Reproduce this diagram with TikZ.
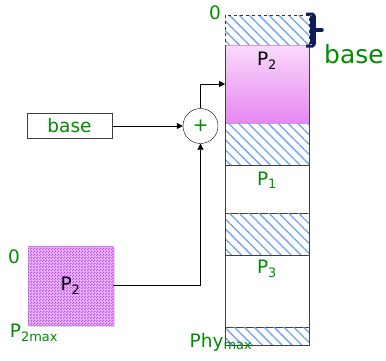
\documentclass[tikz,border=0pt]{standalone}
\usepackage{fontspec}
\setmainfont{DejaVu Sans}
\usetikzlibrary{calc}
\usetikzlibrary{positioning}
\usetikzlibrary{arrows.meta}
\usetikzlibrary{patterns.meta}
\definecolor{labgreen}{RGB}{0,140,0}
\definecolor{hatchblue}{RGB}{110,160,255}
\definecolor{pinktop}{RGB}{250,218,250}
\definecolor{pinkbot}{RGB}{230,135,242}
\definecolor{pinkedge}{RGB}{215,150,235}
\definecolor{checkback}{RGB}{235,190,252}
\definecolor{checkpink}{RGB}{190,75,245}
\definecolor{bracenavy}{RGB}{15,30,90}
\pgfdeclarepattern{
  name=finecheck,
  parameters={},
  bottom left={\pgfpointorigin},
  top right={\pgfqpoint{3pt}{3pt}},
  tile size={\pgfqpoint{3pt}{3pt}},
  tile transformation={},
  code={
    \pgfpathrectangle{\pgfpointorigin}{\pgfqpoint{1.5pt}{1.5pt}}
    \pgfpathrectangle{\pgfqpoint{1.5pt}{1.5pt}}{\pgfqpoint{1.5pt}{1.5pt}}
    \pgfusepath{fill}
  }
}
\tikzset{band/.style={minimum width=84pt, inner sep=0pt, outer sep=0pt, anchor=north}}
\tikzset{hatched/.style={band, pattern={Lines[angle=-45,distance=7pt,line width=1.3pt]}, pattern color=hatchblue}}
\tikzset{used/.style={band, draw=black!75, semithick}}
\tikzset{greenlab/.style={text=labgreen, font=\fontsize{18.5}{20}\selectfont}}
\tikzset{blacklab/.style={text=black, font=\fontsize{18.5}{20}\selectfont}}
\tikzset{conn/.style={thin, -{Triangle[length=6pt,width=6pt]}}}

\begin{document}
\begin{tikzpicture}[x=1pt, y=-1pt]
		\useasboundingbox (0,0) rectangle (386,360);

		% Memory column
		\node[hatched, minimum height=30pt] (free0) at (267,15) {};
		\draw[black!80, dashed] (free0.north west) rectangle (free0.south east);
		\node[band, minimum height=78pt, draw=pinkedge, top color=pinktop, bottom color=pinkbot] (p2mem) at (267,45) {};
		\node[hatched, minimum height=42pt] (free1) at (267,123) {};
		\node[used, minimum height=48pt] (p1mem) at (267,165) {};
		\node[hatched, minimum height=42pt] (free2) at (267,213) {};
		\node[used, minimum height=72pt] (p3mem) at (267,255) {};
		\node[hatched, minimum height=18pt] (free3) at (267,327) {};
		\draw[black!75, semithick] (free0.south west) -- (free3.south west) -- (free3.south east) -- (free0.south east);

		\node[blacklab] (p2memlab) at (267,61) {P\textsubscript{2}};
		\node[greenlab] (p1lab) at (267,180) {P\textsubscript{1}};
		\node[greenlab] (p3lab) at (267,269) {P\textsubscript{3}};
		\node[greenlab] (zerotop) at (215,13) {0};
		\node[greenlab] (phylab) at (221,342) {Phy\textsubscript{max}};

		% Bracket at the top hole
		\draw[bracenavy, line width=3pt, rounded corners=1.5pt] (306,14) -- (314,14) -- (314,46) -- (306,46);
		\draw[bracenavy, line width=6pt] (313,16) -- (313,44);
		\draw[bracenavy, line width=3.5pt, line cap=round] (314,30) -- (322,30);
		\node[text=labgreen, font=\fontsize{25}{27}\selectfont] (baselab) at (354,54) {base};

		% Base register and adder
		\node[draw=black!75, minimum width=85pt, minimum height=25pt, inner sep=0pt, greenlab] (basereg) at (69.5,126) {base};
		\node[draw, circle, minimum size=35pt, inner sep=0pt, greenlab] (adder) at (200.5,126) {+};

		% Logical P2
		\fill[black!15] (30,248) rectangle (115,327);
		\node[minimum width=85pt, minimum height=79pt, inner sep=0pt, fill=checkback, postaction={pattern=finecheck, pattern color=checkpink}, draw=pinkedge, blacklab] (p2log) at (70.5,285.5) {P\textsubscript{2}};
		\node[greenlab] (zeroleft) at (14,257) {0};
		\node[greenlab] (p2maxlab) at (34,333) {P\textsubscript{2max}};

		\draw[conn] (basereg) -- (adder);
		\draw[conn] (p2log.east) -| (adder.south);
		\draw[conn] (adder.north) |- (p2mem.west);
	\end{tikzpicture}
\end{document}
